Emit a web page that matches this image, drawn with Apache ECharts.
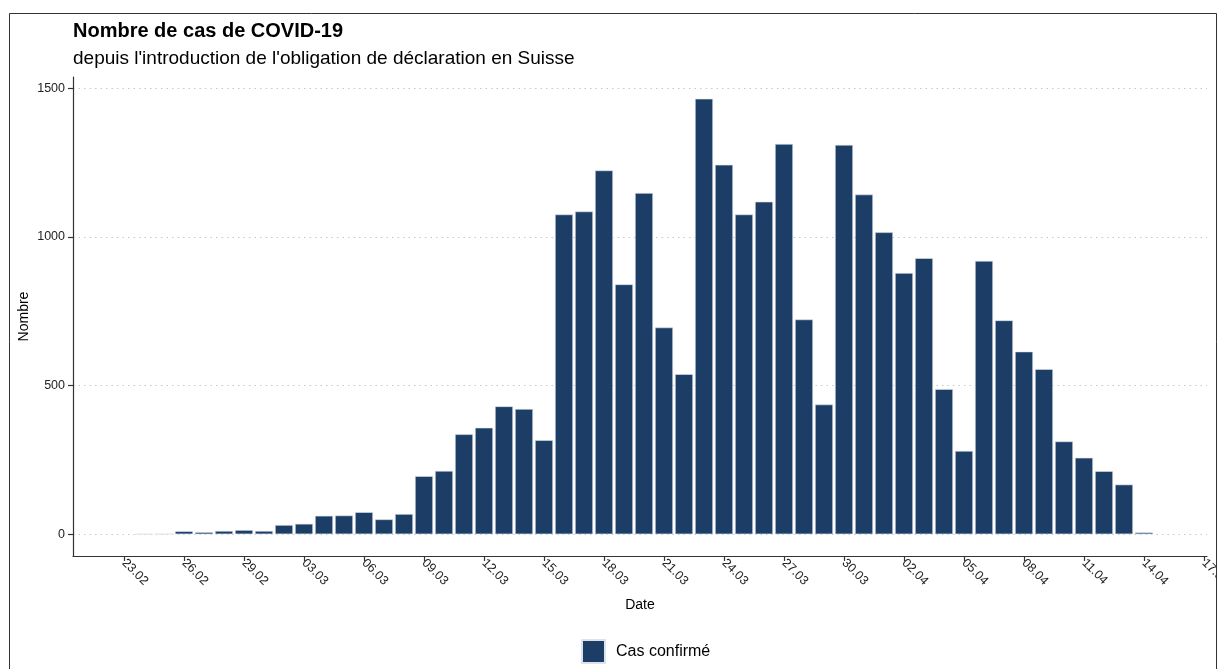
<!DOCTYPE html>
<html>
<head>
<meta charset="utf-8">
<script src="https://cdn.jsdelivr.net/npm/echarts@6/dist/echarts.min.js"></script>
<style>
html,body{margin:0;padding:0;background:#fff;}
#chart{width:1219px;height:669px;}
</style>
</head>
<body>
<div id="chart"></div>
<script>
// ---- data ----
const dates = [
  '24.02','25.02','26.02','27.02','28.02','29.02',
  '01.03','02.03','03.03','04.03','05.03','06.03','07.03','08.03','09.03','10.03',
  '11.03','12.03','13.03','14.03','15.03','16.03','17.03','18.03','19.03','20.03',
  '21.03','22.03','23.03','24.03','25.03','26.03','27.03','28.03','29.03','30.03','31.03',
  '01.04','02.04','03.04','04.04','05.04','06.04','07.04','08.04','09.04','10.04',
  '11.04','12.04','13.04','14.04'
];
const cases = [
  1, 1, 10, 7, 11, 14,
  11, 31, 35, 62, 63, 74, 50, 68, 195, 213,
  336, 358, 430, 421, 316, 1075, 1085, 1223, 840, 1147,
  695, 538, 1464, 1242, 1075, 1118, 1312, 722, 436, 1309, 1142,
  1015, 878, 928, 488, 280, 919, 719, 614, 555,
  312, 257, 212, 167, 6
];
const xTickLabels = ['23.02','26.02','29.02','03.03','06.03','09.03','12.03','15.03','18.03',
  '21.03','24.03','27.03','30.03','02.04','05.04','08.04','11.04','14.04','17.04'];
const yTickValues = [0, 500, 1000, 1500];
const seriesName = 'Cas confirmé';
const titleText = 'Nombre de cas de COVID-19';
const subtitleText = "depuis l'introduction de l'obligation de déclaration en Suisse";

// day offset relative to 23.02.2020
const BASE = Date.UTC(2020, 1, 23);
function toDay(s) {
  const p = s.split('.');
  return Math.round((Date.UTC(2020, parseInt(p[1], 10) - 1, parseInt(p[0], 10)) - BASE) / 86400000);
}
const xTickValues = xTickLabels.map(toDay);
const barData = dates.map((d, i) => [toDay(d), cases[i]]);

const FONT = 'Liberation Sans, Arial, sans-serif';
const chart = echarts.init(document.getElementById('chart'), null, {renderer: 'canvas'});
chart.setOption({
  backgroundColor: '#fff',
  animation: false,
  textStyle: {fontFamily: FONT},
  title: {
    text: titleText,
    subtext: subtitleText,
    left: 73,
    top: 21,
    padding: 0,
    itemGap: 8,
    textStyle: {fontSize: 20, fontWeight: 'bold', color: '#000', fontFamily: FONT},
    subtextStyle: {fontSize: 19, color: '#000', fontFamily: FONT}
  },
  legend: {
    data: [seriesName],
    left: 581,
    top: 639,
    padding: 0,
    itemWidth: 23,
    itemHeight: 23,
    icon: 'rect',
    textStyle: {fontSize: 16, color: '#000', fontFamily: FONT, padding: [0, 0, 0, 6]}
  },
  graphic: [{
    type: 'rect',
    silent: true,
    z: 100,
    shape: {x: 1217, y: 0, width: 10, height: 669},
    style: {fill: '#fff'}
  }, {
    type: 'rect',
    silent: true,
    z: 101,
    shape: {x: 9.5, y: 13.5, width: 1207, height: 700},
    style: {fill: 'none', stroke: '#333', lineWidth: 1}
  }],
  grid: {left: 73, right: 12, top: 77, bottom: 113, containLabel: false, outerBoundsMode: 'none'},
  xAxis: {
    type: 'value',
    min: -2.55,
    max: 54.15,
    name: 'Date',
    nameLocation: 'middle',
    nameGap: 42,
    nameMoveOverlap: false,
    nameTextStyle: {fontSize: 14, color: '#000', fontFamily: FONT},
    axisLine: {onZero: false, lineStyle: {color: '#333', width: 1.2}},
    axisTick: {show: true, customValues: xTickValues, length: 5, lineStyle: {color: '#333', width: 1.2}},
    axisLabel: {
      customValues: xTickValues,
      rotate: -45,
      margin: 5,
      fontSize: 12.5,
      color: '#222',
      fontFamily: FONT,
      hideOverlap: false,
      formatter: function (v) {
        const i = xTickValues.indexOf(Math.round(v));
        return i >= 0 ? xTickLabels[i] : '';
      }
    },
    splitLine: {show: false}
  },
  yAxis: {
    type: 'value',
    min: -73.2,
    max: 1537.2,
    name: 'Nombre',
    nameLocation: 'middle',
    nameGap: 42,
    nameMoveOverlap: false,
    nameRotate: 90,
    nameTextStyle: {fontSize: 14, color: '#000', fontFamily: FONT},
    axisLine: {show: true, onZero: false, lineStyle: {color: '#333', width: 1.2}},
    axisTick: {show: true, customValues: yTickValues, length: 5, lineStyle: {color: '#333', width: 1.2}},
    axisLabel: {
      customValues: yTickValues, fontSize: 12.5, color: '#222', margin: 8, fontFamily: FONT,
      formatter: function (v) { return String(v); }
    },
    splitLine: {show: true, lineStyle: {color: '#c8c8c8', type: [1.5, 4], width: 1}}
  },
  series: [{
    name: seriesName,
    type: 'bar',
    data: barData,
    barWidth: 18,
    itemStyle: {color: '#1b3d66', borderColor: '#dde3ea', borderWidth: 0.6}
  }]
});
</script>
</body>
</html>
